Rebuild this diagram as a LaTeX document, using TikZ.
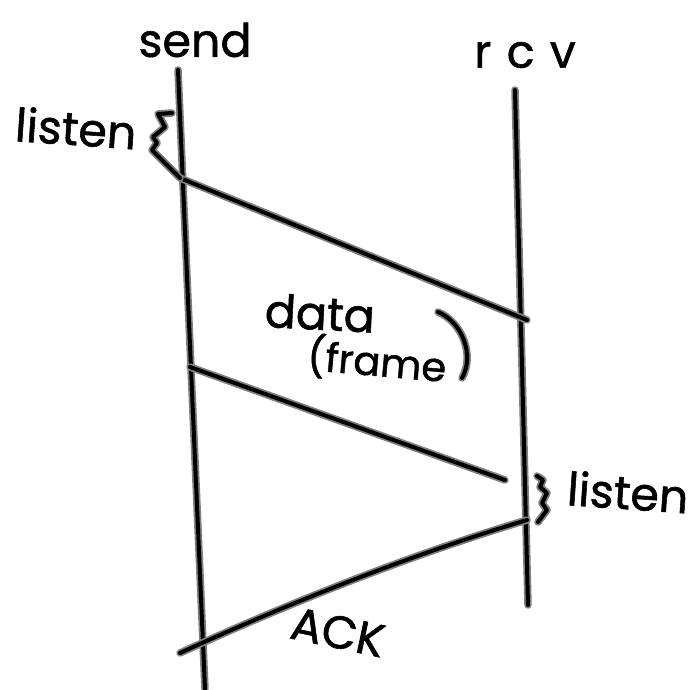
\documentclass[tikz,border=0pt]{standalone}
\usepackage{fontspec}
\setmainfont{Poppins}
\begin{document}
\begin{tikzpicture}[x=1pt,y=-1pt,
  pen/.style={line width=4pt,black,line cap=round,line join=round,
    preaction={draw=gray,line width=7.5pt,line cap=round,line join=round}},
  hand/.style={font=\fontsize{46}{48}\selectfont\addfontfeatures{FakeBold=1.2},inner sep=0pt,text=black}]
\useasboundingbox (0,0) rectangle (698,689);
% lifelines
\coordinate (sT) at (178,70);
\coordinate (sB) at (205,689);
\coordinate (rT) at (515,90);
\coordinate (rB) at (528,605);
\draw[pen] (sT) -- (sB);
\draw[pen] (rT) -- (rB);
% messages
\coordinate (d1a) at (180,178);
\coordinate (d1b) at (527,320);
\coordinate (d2a) at (190,367);
\coordinate (d2b) at (505,480);
\coordinate (aa) at (180,653);
\coordinate (ab) at (527,520);
\draw[pen] (d1a) -- (d1b);
\draw[pen] (d2a) -- (d2b);
\draw[pen] (aa) .. controls (300,598) and (420,552) .. (ab);
% braces
\draw[pen] (172,113) -- (158,114) -- (165,127) -- (153,137) -- (157,143) -- (152,150) -- (d1a);
\draw[pen] (537,476) -- (543,480) -- (540,487) -- (547,493) -- (542,503) -- (547,510) -- (538,522);
% big paren
\draw[pen] (438,312) .. controls (462,322) and (475,355) .. (462,378);
% labels
\node[hand] (send) at (195,40) {send};
\node[hand] (rcv) at (525,55) {r\,\,c\,\,v};
\node[hand,rotate=-4] (lis1) at (76,128) {listen};
\node[hand,rotate=-4] (lis2) at (628,492) {listen};
\node[hand,rotate=-3] (data) at (320,313) {data};
\node[hand,font=\fontsize{40}{42}\selectfont\addfontfeatures{FakeBold=1.2},rotate=-5] (frame) at (377,361) {(frame};
\node[hand,rotate=-12] (ack) at (338,632) {ACK};
\end{tikzpicture}
\end{document}
